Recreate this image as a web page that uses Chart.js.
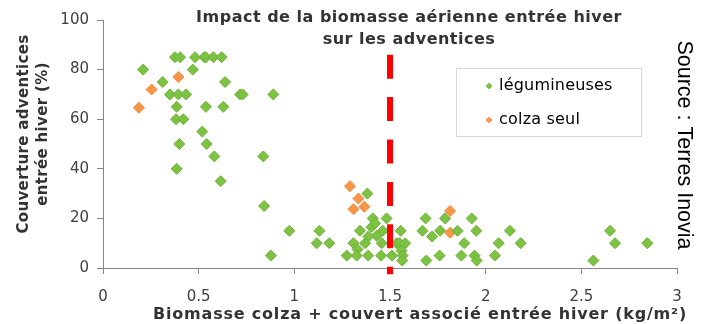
<!DOCTYPE html>
<html><head><meta charset="utf-8">
<script src="https://cdn.jsdelivr.net/npm/chart.js@4"></script>
<style>html,body{margin:0;padding:0;background:#fff;}#wrap{width:702px;height:324px;position:relative;}</style>
</head><body><div id="wrap"><canvas id="c" width="702" height="324"></canvas></div>
<script>
// ---- data ----
const legumineusesX = [0.21,0.376,0.403,0.481,0.53,0.538,0.577,0.62, 0.469,0.312,0.638, 0.35,0.394,0.434,0.716,0.73,0.89, 0.385,0.538,0.629, 0.382,0.42, 0.519,0.399,0.542,0.582,0.838,0.385,0.615,
  0.842,0.974,1.131,1.117,1.183,0.877,
  1.382,1.41,1.482,1.343,1.404,1.422,1.462,1.556,1.43,1.387, 1.309,1.37,1.457,1.535,1.55,1.579, 1.33,1.56, 1.274,1.326,1.386,1.454,1.51,1.566,1.564,
  1.686,1.788,1.927,1.67,1.762,1.853,1.951,2.127, 1.72,1.888,2.068,2.183, 1.69,1.759,1.873,1.942,1.953,2.048, 2.563,2.65,2.676,2.845];
const legumineusesY = [80,85,85,85,85,85,85,85, 80,75,75, 70,70,70,70,70,70, 65,65,65, 60,60, 55,50,50,45,45,40,35,
  25,15,15,10,10,5,
  30,20,20,15,16.5,18,15,15,13,12.7, 10,10,10,10,10,10, 7.5,7, 5,5,5,5,5,5,3,
  20,20,20,15,15,15,15,15, 12.7,10,10,10, 3,5,5,5,3,5, 3,15,10,10];
const colzaX = [0.188,0.254,0.394,1.291,1.335,1.309,1.366,1.814,1.814];
const colzaY = [64.6,72,77,33,28,23.7,24.7,23,14.2];
const seriesNames = ['légumineuses','colza seul'];
const xTickValues = [0,0.5,1,1.5,2,2.5,3];
const yTickValues = [0,20,40,60,80,100];
const titleLines = ['Impact de la biomasse aérienne entrée hiver','sur les adventices'];
const yTitleLines = ['Couverture adventices','entrée hiver (%)'];
const xTitle = 'Biomasse colza + couvert associé entrée hiver (kg/m²)';
const sourceText = 'Source : Terres Inovia';
const thresholdX = 1.5;

const toPts = (xs, ys) => xs.map((x,i)=>({x:x,y:ys[i]}));
const GREEN = '#7dc242', GREEN_B = '#6db236', ORANGE = '#f79646', ORANGE_B = '#f08a3a';

function spaced(ctx, text, x, y, sp){
  if ('letterSpacing' in ctx) { ctx.letterSpacing = sp + 'px'; ctx.fillText(text, x, y); ctx.letterSpacing = '0px'; }
  else ctx.fillText(text, x, y);
}

const extras = {
  id:'extras',
  afterDatasetsDraw(chart){
    const ctx = chart.ctx, xs = chart.scales.x, ys = chart.scales.y;
    const px = xs.getPixelForValue(thresholdX);
    ctx.save();
    ctx.strokeStyle = '#ff0000'; ctx.lineWidth = 6; ctx.setLineDash([24,18.4]);
    ctx.beginPath(); ctx.moveTo(px, ys.getPixelForValue(86)); ctx.lineTo(px, ys.getPixelForValue(-2.5)); ctx.stroke();
    ctx.restore();
  },
  afterDraw(chart){
    const ctx = chart.ctx;
    ctx.save();
    // title
    ctx.fillStyle = '#333333'; ctx.textAlign = 'center'; ctx.textBaseline = 'middle';
    ctx.font = 'bold 16px "DejaVu Sans"';
    spaced(ctx, titleLines[0], 409, 18, 0.5);
    spaced(ctx, titleLines[1], 409, 40, 0.5);
    // legend
    ctx.strokeStyle = '#d9d9d9'; ctx.lineWidth = 1;
    ctx.strokeRect(456.5, 68.5, 185, 68);
    const cols = [GREEN, ORANGE];
    [86,120].forEach((yy,i)=>{
      ctx.fillStyle = cols[i];
      ctx.beginPath(); ctx.moveTo(489-3.5,yy); ctx.lineTo(489,yy-3.5); ctx.lineTo(489+3.5,yy); ctx.lineTo(489,yy+3.5); ctx.closePath(); ctx.fill();
      ctx.fillStyle = '#000'; ctx.textAlign='left'; ctx.font = '16px "DejaVu Sans"';
      spaced(ctx, chart.data.datasets[i].label, 499, yy, 0.2);
    });
    // y title
    ctx.fillStyle = '#333333'; ctx.font = 'bold 15px "DejaVu Sans"'; ctx.textAlign='center';
    ctx.save(); ctx.translate(24,134); ctx.rotate(-Math.PI/2);
    spaced(ctx, yTitleLines[0],0,0,0.35); spaced(ctx, yTitleLines[1],0,19,0.35);
    ctx.restore();
    // x title
    ctx.font = 'bold 16px "DejaVu Sans"';
    spaced(ctx, xTitle, 420, 315, 0.8);
    // source
    ctx.save(); ctx.translate(684,145); ctx.rotate(Math.PI/2);
    ctx.fillStyle='#000'; ctx.font = '21.5px "Liberation Sans"';
    ctx.fillText(sourceText,0,0);
    ctx.restore();
    ctx.restore();
  }
};

new Chart(document.getElementById('c'), {
  type:'scatter',
  data:{datasets:[
    {label:seriesNames[0], data:toPts(legumineusesX,legumineusesY), backgroundColor:GREEN, borderColor:GREEN_B, borderWidth:1, pointStyle:'rectRot', pointRadius:5.5, pointHoverRadius:5.5},
    {label:seriesNames[1], data:toPts(colzaX,colzaY), backgroundColor:ORANGE, borderColor:ORANGE_B, borderWidth:1, pointStyle:'rectRot', pointRadius:5.5, pointHoverRadius:5.5}
  ]},
  options:{
    responsive:false, animation:false, devicePixelRatio:1,
    layout:{padding:{top:20,right:25,left:0,bottom:0}},
    plugins:{legend:{display:false}, title:{display:false}, tooltip:{enabled:false}},
    scales:{
      x:{type:'linear', min:0, max:3,
        afterBuildTicks:(s)=>{s.ticks = xTickValues.map(v=>({value:v}));},
        afterFit:(s)=>{s.height=56;},
        ticks:{callback:(v)=>String(v), font:{family:'DejaVu Sans', size:15}, color:'#404040', padding:14, maxRotation:0},
        grid:{drawOnChartArea:false, drawTicks:true, tickLength:6, color:'#868686'},
        border:{color:'#868686', width:1}},
      y:{type:'linear', min:0, max:100,
        afterBuildTicks:(s)=>{s.ticks = yTickValues.map(v=>({value:v}));},
        afterFit:(s)=>{s.width=103;},
        ticks:{font:{family:'DejaVu Sans', size:15}, color:'#404040', padding:8},
        grid:{drawOnChartArea:false, drawTicks:true, tickLength:6, color:'#868686'},
        border:{color:'#868686', width:1}}
    }
  },
  plugins:[extras]
});
</script></body></html>
